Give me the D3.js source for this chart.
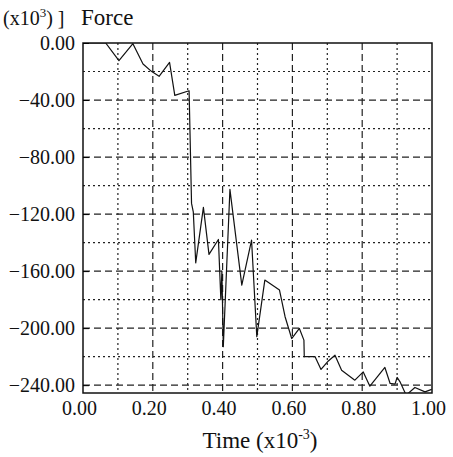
<!DOCTYPE html>
<html>
<head>
<meta charset="utf-8">
<script src="https://cdn.jsdelivr.net/npm/d3@7"></script>
<style>
  body { margin: 0; background: #fff; }
  text { font-family: "Liberation Serif", "DejaVu Serif", serif; fill: #111; }
</style>
</head>
<body>
<div id="chart"></div>
<script>
// time in units of 1e-3, force in units of 1e3
var time = [0, 0.065, 0.103, 0.143, 0.172, 0.196, 0.218, 0.248, 0.263, 0.304, 0.311, 0.316, 0.323, 0.345,
  0.361, 0.388, 0.395, 0.398, 0.402, 0.421, 0.455, 0.483, 0.498, 0.521, 0.563, 0.579, 0.598, 0.620,
  0.633, 0.634, 0.665, 0.682, 0.703, 0.722, 0.741, 0.779, 0.803, 0.822, 0.865, 0.880, 0.894, 0.900,
  0.908, 0.926, 0.951, 0.980, 0.999];
var force = [0, 0, -12.4, -0.5, -14.7, -19.9, -23.4, -13.6, -36.7, -33.5, -112.5, -118.4, -154.2, -115.3,
  -148.3, -137.8, -180, -160, -213, -102.7, -169.8, -138.3, -206, -166.3, -173.3, -192, -207.3, -200.2,
  -208.4, -220, -220, -229, -223, -219, -229.5, -236.5, -230.7, -240.7, -227.6, -238.8, -239.3, -234.6,
  -237.5, -247, -241.6, -244.7, -243];

var xTicks = [0, 0.2, 0.4, 0.6, 0.8, 1.0];
var yTicks = [0, -40, -80, -120, -160, -200, -240];

var data = time.map(function(t, i) { return {t: t, f: force[i]}; });

var svg = d3.select("#chart").append("svg")
  .attr("width", 453)
  .attr("height", 457);

var margin = {top: 43, right: 21, bottom: 64, left: 83};
var width = 453 - margin.left - margin.right;
var height = 457 - margin.top - margin.bottom;
var g = svg.append("g").attr("transform", "translate(" + margin.left + "," + margin.top + ")");

var x = d3.scaleLinear().domain([0, 1]).range([0, width]);
var y = d3.scaleLinear().domain([-245.5, 0]).range([height, 0]);

// grid: dashed on labelled values, dotted in between
var xGrid = d3.range(1, 10).map(function(i) { return i / 10; });
g.selectAll(".vgrid")
  .data(xGrid)
  .enter().append("line")
  .attr("x1", d => x(d)).attr("x2", d => x(d))
  .attr("y1", 0).attr("y2", height)
  .attr("stroke", "#222")
  .attr("stroke-width", 1.2)
  .attr("stroke-dasharray", (d, i) => i % 2 === 1 ? "7,4" : "2,3");

var yGrid = d3.range(1, 13).map(function(i) { return -20 * i; });
g.selectAll(".hgrid")
  .data(yGrid)
  .enter().append("line")
  .attr("x1", 0).attr("x2", width)
  .attr("y1", d => y(d)).attr("y2", d => y(d))
  .attr("stroke", "#222")
  .attr("stroke-width", 1.2)
  .attr("stroke-dasharray", (d, i) => i % 2 === 1 ? "7,4" : "2,3");

g.append("clipPath").attr("id", "clip")
  .append("rect").attr("width", width).attr("height", height);

var line = d3.line()
  .x(d => x(d.t))
  .y(d => y(d.f));

g.append("path")
  .datum(data)
  .attr("clip-path", "url(#clip)")
  .attr("fill", "none")
  .attr("stroke", "#111")
  .attr("stroke-width", 1.2)
  .attr("stroke-linejoin", "round")
  .attr("d", line);

// frame
g.append("rect")
  .attr("width", width).attr("height", height)
  .attr("fill", "none")
  .attr("stroke", "#111")
  .attr("stroke-width", 1.5);

// axes
var yAxis = d3.axisLeft(y)
  .tickValues(yTicks)
  .tickSize(-6)
  .tickPadding(8)
  .tickFormat(d3.format(".2f"));
var ya = g.append("g").call(yAxis);
ya.select(".domain").remove();
ya.selectAll("text").style("font-size", "20px");

var xAxis = d3.axisBottom(x)
  .tickValues(xTicks)
  .tickSize(0)
  .tickPadding(8)
  .tickFormat(d3.format(".2f"));
var xa = g.append("g").attr("transform", "translate(0," + height + ")").call(xAxis);
xa.select(".domain").remove();
xa.selectAll("text").style("font-size", "20px").attr("dx", -4);

// titles
var yl = svg.append("text").attr("x", 3).attr("y", 25).style("font-size", "20px");
yl.append("tspan").text("(x10");
yl.append("tspan").attr("dy", -8).style("font-size", "13px").text("3");
yl.append("tspan").attr("dy", 8).text(") ]");

svg.append("text").attr("x", 81).attr("y", 25).style("font-size", "23px").text("Force");

var xl = svg.append("text").attr("x", 260).attr("y", 448)
  .attr("text-anchor", "middle").style("font-size", "23px");
xl.append("tspan").text("Time (x10");
xl.append("tspan").attr("dy", -9).style("font-size", "14px").text("-3");
xl.append("tspan").attr("dy", 9).text(")");
</script>
</body>
</html>
